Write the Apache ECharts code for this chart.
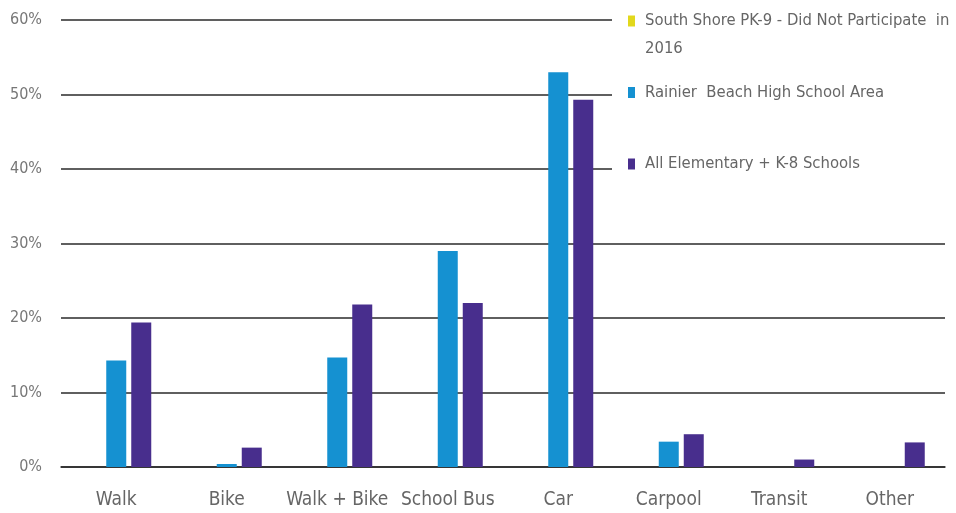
<!DOCTYPE html>
<html><head><meta charset="utf-8">
<script src="https://cdn.jsdelivr.net/npm/echarts@6/dist/echarts.min.js"></script>
<style>html,body{margin:0;padding:0;background:#fff}#c{width:956px;height:513px}</style>
</head><body><div id="c"></div>
<script>
var categories = ['Walk','Bike','Walk + Bike','School Bus','Car','Carpool','Transit','Other'];
var seriesNames = ['South Shore PK-9 - Did Not Participate in 2016','Rainier  Beach High School Area','All Elementary + K-8 Schools'];
var southShore = [null,null,null,null,null,null,null,null];
var rainierBeach = [14.3,0.4,14.7,29.0,53.0,3.4,null,null];
var allElementary = [19.4,2.6,21.8,22.0,49.3,4.4,1.0,3.3];
var colors = ['#e2d81c','#1591d1','#482e8d'];
var FONT = '"DejaVu Sans Condensed","Liberation Sans Narrow","Roboto",sans-serif';

var chart = echarts.init(document.getElementById('c'));
chart.setOption({
  animation:false,
  grid:{left:61,right:11,top:20,bottom:46},
  xAxis:{type:'category',data:categories,
    axisLine:{lineStyle:{color:'#2a2a2a',width:1.5}},axisTick:{show:false},
    axisLabel:{interval:0,color:'#666',fontSize:19,fontFamily:FONT,margin:24}},
  yAxis:{type:'value',min:0,max:60,interval:10,
    axisLabel:{formatter:'{value}%',color:'#777',fontSize:16,fontFamily:FONT,margin:19},
    splitLine:{lineStyle:{color:'#2a2a2a',width:1.5}},axisLine:{show:false},axisTick:{show:false}},
  legend:{orient:'vertical',left:612,top:1,right:0,
    padding:[10,20,6,16],backgroundColor:'#fff',
    itemGap:51.5,itemWidth:7,itemHeight:11,icon:'rect',
    formatter:function(n){return n===seriesNames[0]?'South Shore PK-9 - Did Not Participate  in':n;},
    textStyle:{color:'#666',fontSize:16.5,fontFamily:FONT,lineHeight:20,padding:[0,0,0,5]},
    data:seriesNames},
  graphic:[{type:'text',left:645,top:40,z:100,
    style:{text:'2016',fill:'#666',fontSize:16.5,fontFamily:FONT}}],
  series:[
    {name:seriesNames[0],type:'bar',data:southShore,barWidth:20,barGap:'25%',itemStyle:{color:colors[0]}},
    {name:seriesNames[1],type:'bar',data:rainierBeach,barWidth:20,barGap:'25%',itemStyle:{color:colors[1]}},
    {name:seriesNames[2],type:'bar',data:allElementary,barWidth:20,barGap:'25%',itemStyle:{color:colors[2]}}
  ]
});
</script></body></html>
